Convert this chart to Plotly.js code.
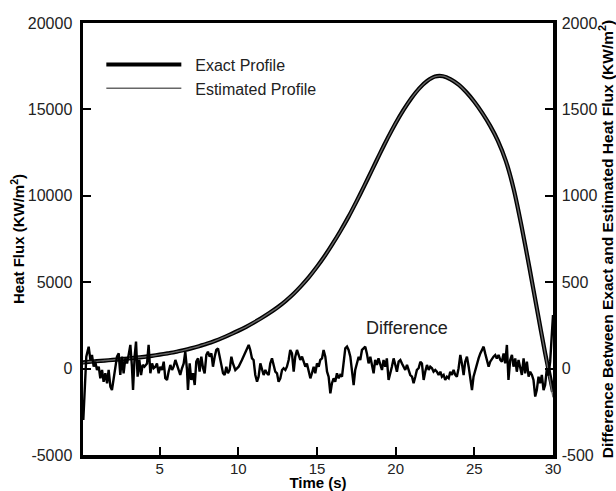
<!DOCTYPE html>
<html>
<head>
<meta charset="utf-8">
<script src="https://cdn.plot.ly/plotly-3.0.1.min.js"></script>
<style>html,body{margin:0;padding:0;background:#fff;}#chart{width:616px;height:491px;}</style>
</head>
<body>
<div id="chart"></div>
<script>
// Heat flux profiles (KW/m^2) vs time (s), read every 0.5 s
const profileTime = [0, 0.5, 1, 1.5, 2, 2.5, 3, 3.5, 4, 4.5, 5, 5.5, 6, 6.5, 7, 7.5, 8, 8.5, 9, 9.5, 10, 10.5, 11, 11.5, 12, 12.5, 13, 13.5, 14, 14.5, 15, 15.5, 16, 16.5, 17, 17.5, 18, 18.5, 19, 19.5, 20, 20.5, 21, 21.5, 22, 22.5, 23, 23.5, 24, 24.5, 25, 25.5, 26, 26.5, 27, 27.5, 28, 28.5, 29, 29.5, 30];
const exactProfile = [350, 390, 430, 465, 500, 540, 585, 630, 680, 740, 805, 880, 960, 1060, 1170, 1300, 1440, 1600, 1780, 1980, 2190, 2420, 2670, 2940, 3230, 3550, 3910, 4320, 4790, 5310, 5890, 6530, 7230, 7980, 8780, 9650, 10560, 11500, 12440, 13350, 14200, 14970, 15650, 16220, 16640, 16900, 16920, 16740, 16430, 15990, 15440, 14800, 14060, 13180, 12020, 10400, 8250, 5850, 3350, 900, -1350];
const estimatedProfile = [320, 400, 420, 470, 495, 545, 580, 640, 675, 735, 810, 875, 965, 1055, 1175, 1295, 1445, 1595, 1785, 1975, 2195, 2415, 2675, 2935, 3235, 3545, 3915, 4315, 4795, 5305, 5895, 6525, 7235, 7975, 8785, 9645, 10565, 11495, 12445, 13345, 14205, 14965, 15655, 16215, 16645, 16895, 16925, 16735, 16435, 15985, 15445, 14795, 14065, 13175, 12025, 10395, 8255, 5845, 3355, 890, -1660];

// Difference between exact and estimated heat flux (right axis)
const diffTime = [0.15, 0.34, 0.49, 0.60, 0.70, 0.81, 0.91, 1.02, 1.13, 1.23, 1.34, 1.44, 1.55, 1.66, 1.76, 1.87, 1.97, 2.08, 2.19, 2.29, 2.40, 2.50, 2.61, 2.71, 2.82, 2.93, 3.03, 3.14, 3.24, 3.31, 3.41, 3.50, 3.60, 3.71, 3.82, 3.92, 4.03, 4.20, 4.30, 4.41, 4.52, 4.62, 4.73, 4.83, 4.94, 5.04, 5.15, 5.26, 5.36, 5.47, 5.57, 5.68, 5.79, 5.89, 6.00, 6.10, 6.21, 6.31, 6.42, 6.53, 6.63, 6.74, 6.80, 6.91, 7.01, 7.12, 7.23, 7.33, 7.44, 7.54, 7.65, 7.76, 7.86, 7.97, 8.07, 8.18, 8.29, 8.39, 8.50, 8.60, 8.71, 8.81, 8.92, 9.03, 9.13, 9.24, 9.34, 9.45, 9.56, 9.66, 9.81, 10.02,
  10.23, 10.44, 10.66, 10.76, 10.87, 10.97, 11.08, 11.19, 11.29, 11.40, 11.50, 11.61, 11.72, 11.82, 11.93, 12.03, 12.14, 12.25, 12.35, 12.46, 12.56, 12.67, 12.78, 12.88, 12.99, 13.09, 13.20, 13.30, 13.41, 13.52, 13.62, 13.73, 13.83, 13.94, 14.05, 14.15, 14.26, 14.36, 14.47, 14.58, 14.68, 14.79, 14.89, 15.00, 15.11, 15.21, 15.32, 15.42, 15.53, 15.64, 15.74, 15.85, 15.95, 16.06, 16.16, 16.27, 16.38, 16.48, 16.59, 16.69, 16.80, 16.91, 17.01, 17.12, 17.22, 17.33, 17.43, 17.54, 17.65, 17.75, 17.86, 17.96, 18.07, 18.17, 18.28, 18.39, 18.49, 18.60, 18.70, 18.81, 18.91, 19.02, 19.13, 19.23, 19.34, 19.44, 19.55, 19.76,
  19.87, 19.98, 20.08, 20.19, 20.30, 20.40, 20.51, 20.61, 20.72, 20.83, 20.93, 21.04, 21.14, 21.25, 21.35, 21.46, 21.57, 21.67, 21.78, 21.88, 21.99, 22.10, 22.20, 22.31, 22.41, 22.52, 22.62, 22.73, 22.84, 22.94, 23.05, 23.15, 23.26, 23.37, 23.47, 23.58, 23.68, 23.79, 23.89, 24.00, 24.11, 24.21, 24.32, 24.42, 24.53, 24.64, 24.74, 24.85, 24.95, 25.06, 25.16, 25.27, 25.38, 25.48, 25.59, 25.69, 25.80, 25.91, 26.01, 26.12, 26.22, 26.33, 26.43, 26.54, 26.65, 26.75, 26.86, 26.96, 27.07, 27.17, 27.28, 27.39, 27.49, 27.60, 27.70, 27.81, 27.92, 28.02, 28.13, 28.23, 28.34, 28.45, 28.55, 28.66, 28.76, 28.87, 28.97, 29.08, 29.18, 29.29, 29.40, 29.50, 29.61, 29.71, 29.82, 29.92, 30.0];
const diffValue = [-297, 69, 127, 50, 79, 11, 40, -8, 11, -56, -8, -76, -27, -85, -8, -105, -124, -47, 11, 69, 88, -37, 69, -27, 59, 30, 79, 137, 11, -124, 69, 156, -47, 50, -37, 21, 11, 30, 137, -27, 30, 2, 11, 30, -27, 11, -8, 40, -56, -66, -18, 21, -8, 11, 50, 21, -8, -37, 2, 30, 98, -8, -124, 30, -66, -27, -95, 40, 59, -18, 69, 2, -27, 79, 98, 69, 88, 11, 69, 108, 117, 69, 30, -27, -37, 11, -27, -8, 69, 30, -8, 11,
  50, 88, 137, 108, 59, 50, -37, -76, -47, 30, -8, -37, -8, -27, -37, 30, 59, 21, -18, -27, -76, -56, -8, 2, -8, 11, 50, 108, 88, -18, 69, 108, 79, 50, 69, 40, 11, 30, -8, -56, -27, 11, -27, 30, 11, 50, 59, 108, 69, -18, -47, -143, -85, -56, -76, -27, -56, -37, -47, 30, 117, 127, 108, 69, -18, -95, -8, 30, 69, 50, 108, 117, 127, 88, 30, 69, 11, -27, 50, 21, 59, 30, -8, 50, 11, 59, -66, 11,
  59, 21, -18, 40, 50, 30, 11, -8, 21, -18, -37, -47, -85, -47, -8, 2, 40, 30, -66, -18, 21, -8, 11, 2, -18, -8, -18, -37, -18, -47, -37, -66, -47, -56, -18, -37, -8, -37, -47, 2, 79, 30, -37, 40, 69, 11, -66, -124, -47, -8, 30, 59, 88, 108, 127, 88, 50, 11, 40, 59, 69, 79, 59, 79, 50, 40, 88, 30, 137, -66, 50, 79, 11, 59, -18, 50, 11, -37, 59, -27, 40, -47, -18, -37, -66, -162, -124, -47, -85, -37, -124, -95, 2, -40, 40, 180, 310];

const xTicks = [5, 10, 15, 20, 25, 30];
const yTicks = [-5000, 0, 5000, 10000, 15000, 20000];
const y2Ticks = [-500, 0, 500, 1000, 1500, 2000];
const legendNames = ["\u00a0\u00a0Exact Profile", "\u00a0\u00a0Estimated Profile"];

const FONT = "Liberation Sans, Arial, sans-serif";

const traces = [
  {x: profileTime, y: exactProfile, name: legendNames[0], mode: "lines", line: {color: "#000", width: 4.2, shape: "spline", smoothing: 0.6}},
  {x: profileTime, y: estimatedProfile, name: legendNames[1], mode: "lines", line: {color: "#666", width: 1.4, shape: "spline", smoothing: 0.6}},
  {x: diffTime, y: diffValue, name: "Difference", mode: "lines", yaxis: "y2", showlegend: false, line: {color: "#000", width: 2.4}}
];

const layout = {
  width: 616, height: 491,
  margin: {l: 83, r: 63, t: 23, b: 36, pad: 0},
  paper_bgcolor: "#fff", plot_bgcolor: "#fff",
  font: {family: FONT, size: 16, color: "#222"},
  showlegend: true,
  legend: {x: 0.039, y: 0.943, xanchor: "left", yanchor: "top", bgcolor: "rgba(0,0,0,0)", font: {size: 16, color: "#222"}, itemwidth: 75, tracegroupgap: 0},
  xaxis: {
    range: [0.13, 30], tickvals: xTicks, ticktext: xTicks.map(String),
    ticks: "inside", ticklen: 8, tickwidth: 2, tickcolor: "#000",
    showline: true, linewidth: 3.5, linecolor: "#000", mirror: true,
    showgrid: false, zeroline: false,
    tickfont: {size: 15, color: "#222"}, ticklabelstandoff: -3,
    title: {text: "<b>Time (s)</b>", font: {size: 15, color: "#000"}, standoff: 3}
  },
  yaxis: {
    range: [-5000, 20000], tickvals: yTicks, ticktext: yTicks.map(String),
    ticks: "inside", ticklen: 8, tickwidth: 2, tickcolor: "#000",
    showline: true, linewidth: 3.5, linecolor: "#000", mirror: true,
    showgrid: false, zeroline: false,
    tickfont: {size: 16, color: "#222"}, ticklabelstandoff: 4,
    title: {text: "<b>Heat Flux (KW/m<sup>2</sup>)</b>", font: {size: 15, color: "#000"}, standoff: 0}
  },
  yaxis2: {
    overlaying: "y", side: "right",
    range: [-500, 2000], tickvals: y2Ticks, ticktext: y2Ticks.map(String),
    ticks: "inside", ticklen: 8, tickwidth: 2, tickcolor: "#000",
    showline: true, linewidth: 3.5, linecolor: "#000",
    showgrid: false, zeroline: false,
    tickfont: {size: 16, color: "#222"}, ticklabelstandoff: 2,
    title: {text: "<b>Difference Between Exact and Estimated Heat Flux (KW/m<sup>2</sup>)</b>", font: {size: 15.5, color: "#000"}, standoff: 3}
  },
  annotations: [
    {x: 20.74, y: 235, xref: "x", yref: "y2", text: "Difference", showarrow: false, font: {size: 18, color: "#222"}}
  ]
};

Plotly.newPlot("chart", traces, layout, {displayModeBar: false, staticPlot: true});
</script>
</body>
</html>
